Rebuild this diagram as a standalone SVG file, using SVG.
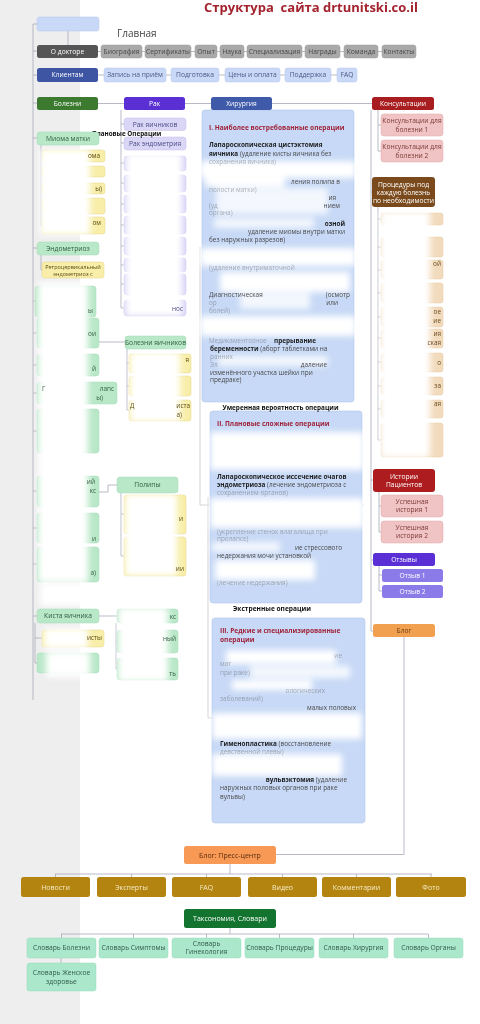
<svg xmlns="http://www.w3.org/2000/svg" width="480" height="1024" viewBox="0 0 480 1024">
<defs>
<style>
text{font-family:"Open Sans","Noto Sans","Liberation Sans",sans-serif}
.c{font-size:6.7px;text-anchor:middle}
.c7{font-size:7px;text-anchor:middle}
.sm{font-size:5.5px;text-anchor:middle}
.fr{font-size:6.4px}
.e{text-anchor:end}
.ln{stroke:#a6a9b8;stroke-width:0.8;fill:none}
.frame{stroke:#c9c9cf;stroke-width:0.8;fill:none}
.gr{fill:#a9a9a9;stroke:#9c9c9c;stroke-width:0.5}
.gt{fill:#484848}
.lb{fill:#c8d8f6;stroke:#b4c7ec;stroke-width:0.5}
.lbt{fill:#4a5a86}
.mg{fill:#b9e8c8;stroke:#a3d8b4;stroke-width:0.5}
.mgt{fill:#2f5b3e}
.yl{fill:#f8eeaa;stroke:#e4d486;stroke-width:0.5}
.ylt{fill:#5a4a10}
.lv{fill:#d9d6f6;stroke:#c4bfee;stroke-width:0.5}
.lvt{fill:#4b4a86}
.pk{fill:#f0c4c4;stroke:#e0a8a8;stroke-width:0.5}
.pkt{fill:#7d3838}
.pe{fill:#f2dbbd;stroke:#e6c9a2;stroke-width:0.5}
.pet{fill:#6a4a20}
.sb{fill:#c7d9f6;stroke:#b3c7ec;stroke-width:0.6}
.s{font-size:6.4px;fill:#4a4a4a}
.f{opacity:0.4}
.b{font-weight:700;fill:#1e1e1e}
.h{font-size:6.6px;font-weight:700;fill:#a0243a}
.gold{fill:#b3840f}
.goldt{fill:#f6ecc8}
.mint{fill:#abe8cb;stroke:#97dcbb;stroke-width:0.5}
.mintt{fill:#2f5a4a}
.w{fill:#fff}
</style>
<filter id="fog" x="-30%" y="-30%" width="160%" height="160%"><feGaussianBlur stdDeviation="3"/></filter>
</defs>

<rect x="0" y="0" width="480" height="1024" fill="#fff"/>
<rect x="0" y="0" width="80" height="1024" fill="#eeeeee"/>

<g id="connectors">
<path class="ln" d="M33,24 H37 M33,24 V700 M68,31 V45 M33,51 H37 M33,75 H37 M33,103 H37"/>
<path class="ln" d="M98,51.5 H416 M98,75 H357 M98,103.5 H434"/>
<path class="ln" d="M121,110 V308 M121,124 H124 M121,143 H124 M121,163 H124 M121,183 H124 M121,204 H124 M121,225 H124 M121,246 H124 M121,265 H124 M121,284 H124 M121,308 H124"/>
<path class="ln" d="M33,138 H37 M33,248 H37 M41,145 V226 M41,156 H42 M41,172 H42 M41,188 H42 M41,206 H42 M41,226 H42 M41,255 V270 H42"/>
<path class="ln" d="M33,301 H35 M33,333 H37 M33,365 H37 M33,393 H37 M33,431 H37 M33,491 H37 M33,528 H37 M33,564 H37 M33,616 H37"/>
<path class="ln" d="M99,342 H125 M127,349 V410 M127,363 H129 M127,386 H129 M127,410 H129"/>
<path class="ln" d="M99,492 H108 V485 H117 M121,493 V556 M121,514 H124 M121,556 H124"/>
<path class="ln" d="M99,616 H117 M35,623 V663 H37 M35,638 H42 M116,623 V669 M116,641 H117 M116,669 H117"/>
<path class="frame" d="M200,247 V505 H364 M208,497 V718 H212"/>
<path class="ln" d="M371,110 V631 H373 M371,192 H372 M371,480 H373 M371,560 H373"/>
<path class="ln" d="M378,110 V151 M378,125 H381 M378,151 H381 M378,207 V440 M378,219 H381 M378,247 H381 M378,270 H381 M378,293 H381 M378,317 H381 M378,338 H381 M378,362 H381 M378,386 H381 M378,409 H381 M378,440 H381"/>
<path class="ln" d="M379,492 V532 M379,506 H381 M379,532 H381 M379,566 V591 M379,575 H382 M379,591 H382"/>
<path class="ln" d="M404,637 V854.5 H276"/>
<path class="ln" d="M230,864 V874 M55,874 H432 M55.5,874 V877 M131.5,874 V877 M206.5,874 V877 M282.5,874 V877 M356.5,874 V877 M431,874 V877"/>
<path class="ln" d="M230,928 V934 M61,934 H428 M61.5,934 V938 M133.5,934 V938 M206.5,934 V938 M279.5,934 V938 M353.5,934 V938 M428.5,934 V938 M61,958 V963"/>
</g>

<g id="mioma-items">
<rect class="yl" x="42" y="150" width="63" height="12" rx="2.5"/>
<rect class="yl" x="42" y="166" width="63" height="11" rx="2.5"/>
<rect class="yl" x="42" y="183" width="63" height="11" rx="2.5"/>
<rect class="yl" x="42" y="198" width="63" height="16" rx="2.5"/>
<rect class="yl" x="42" y="217" width="63" height="17" rx="2.5"/>
</g>
<g id="endo-items">
<rect class="mg" x="35" y="286" width="61" height="31" rx="3"/>
<rect class="mg" x="37" y="318" width="62" height="30" rx="3"/>
<rect class="mg" x="37" y="354" width="62" height="22" rx="3"/>
<rect class="mg" x="37" y="382" width="80" height="22" rx="3"/>
<rect class="mg" x="37" y="409" width="62" height="44" rx="3"/>
<rect class="mg" x="37" y="476" width="62" height="31" rx="3"/>
<rect class="mg" x="37" y="513" width="62" height="30" rx="3"/>
<rect class="mg" x="37" y="547" width="62" height="35" rx="3"/>
</g>
<g id="kista-items">
<rect class="yl" x="42" y="630" width="62" height="17" rx="2.5"/>
<rect class="mg" x="37" y="653" width="62" height="20" rx="3"/>
<rect class="mg" x="117" y="609" width="61" height="14" rx="3"/>
<rect class="mg" x="117" y="630" width="61" height="23" rx="3"/>
<rect class="mg" x="117" y="658" width="61" height="22" rx="3"/>
</g>
<g id="ovary-items">
<rect class="yl" x="129" y="354" width="62" height="19" rx="2.5"/>
<rect class="yl" x="129" y="376" width="62" height="20" rx="2.5"/>
<rect class="yl" x="129" y="400" width="62" height="21" rx="2.5"/>
</g>
<g id="polyp-items">
<rect class="yl" x="124" y="495" width="62" height="39" rx="2.5"/>
<rect class="yl" x="124" y="537" width="62" height="39" rx="2.5"/>
</g>
<g id="rak-items">
<rect class="lv" x="124" y="156" width="62" height="15" rx="3"/>
<rect class="lv" x="124" y="175" width="62" height="17" rx="3"/>
<rect class="lv" x="124" y="195" width="62" height="18" rx="3"/>
<rect class="lv" x="124" y="216" width="62" height="18" rx="3"/>
<rect class="lv" x="124" y="237" width="62" height="18" rx="3"/>
<rect class="lv" x="124" y="258" width="62" height="14" rx="3"/>
<rect class="lv" x="124" y="274" width="62" height="21" rx="3"/>
<rect class="lv" x="124" y="300" width="62" height="16" rx="3"/>
</g>
<g id="procedure-items">
<rect class="pe" x="381" y="213" width="62" height="12" rx="2.5"/>
<rect class="pe" x="381" y="237" width="62" height="20" rx="2.5"/>
<rect class="pe" x="381" y="260" width="62" height="19" rx="2.5"/>
<rect class="pe" x="381" y="283" width="62" height="20" rx="2.5"/>
<rect class="pe" x="381" y="307" width="62" height="20" rx="2.5"/>
<rect class="pe" x="381" y="329" width="62" height="19" rx="2.5"/>
<rect class="pe" x="381" y="353" width="62" height="19" rx="2.5"/>
<rect class="pe" x="381" y="377" width="62" height="18" rx="2.5"/>
<rect class="pe" x="381" y="400" width="62" height="18" rx="2.5"/>
<rect class="pe" x="381" y="423" width="62" height="34" rx="2.5"/>
</g>
<g id="surgery-boxes">
<rect class="sb" x="202" y="110" width="152" height="292" rx="3"/>
<rect class="sb" x="210" y="411" width="152" height="192" rx="3"/>
<rect class="sb" x="212" y="618" width="153" height="205" rx="3"/>
</g>

<g id="fog" filter="url(#fog)" fill="#fff">
<rect x="40" y="149" width="50" height="86"/>
<rect x="38" y="282" width="50" height="300"/>
<rect x="40" y="584" width="46" height="22"/>
<rect x="44" y="628" width="44" height="20"/>
<rect x="46" y="651" width="44" height="26"/>
<rect x="118" y="607" width="50" height="75"/>
<rect x="126" y="153" width="56" height="163"/>
<rect x="130" y="352" width="50" height="70"/>
<rect x="125" y="494" width="52" height="82"/>
<rect x="380" y="211" width="50" height="247"/>
<rect x="200" y="161" width="156" height="17"/>
<rect x="205" y="178" width="80" height="9"/>
<rect x="216" y="188" width="112" height="26" opacity="0.8"/>
<rect x="214" y="218" width="100" height="10" opacity="0.8"/>
<rect x="200" y="248" width="156" height="18"/>
<rect x="220" y="272" width="130" height="20"/>
<rect x="240" y="293" width="70" height="16" opacity="0.8"/>
<rect x="200" y="316" width="156" height="20"/>
<rect x="218" y="356" width="110" height="10" opacity="0.8"/>
<rect x="210" y="432" width="154" height="38"/>
<rect x="210" y="498" width="154" height="30"/>
<rect x="212" y="542" width="68" height="10" opacity="0.8"/>
<rect x="215" y="560" width="100" height="20"/>
<rect x="226" y="650" width="110" height="14"/>
<rect x="250" y="666" width="100" height="12" opacity="0.8"/>
<rect x="232" y="680" width="80" height="10"/>
<rect x="212" y="713" width="150" height="26"/>
<rect x="212" y="754" width="130" height="22"/>
</g>

<text x="311" y="12" xml:space="preserve" style="font-size:13px;font-weight:700;fill:#a3232f;text-anchor:middle">Структура  сайта drtunitski.co.il</text>

<g id="home">
<rect class="lb" x="37" y="17" width="62" height="14" rx="2.5"/>
<text x="117" y="37" style="font-size:10px;fill:#444">Главная</text>
</g>

<g id="about">
<rect x="37" y="45" width="61" height="13" rx="2.5" fill="#555"/>
<text class="c w" x="67.5" y="53.8">О докторе</text>
<rect class="gr" x="101" y="45" width="41" height="13" rx="2.5"/><text class="c gt" x="121.5" y="53.8">Биография</text>
<rect class="gr" x="145" y="45" width="46" height="13" rx="2.5"/><text class="c gt" x="168" y="53.8">Сертификаты</text>
<rect class="gr" x="195" y="45" width="22" height="13" rx="2.5"/><text class="c gt" x="206" y="53.8">Опыт</text>
<rect class="gr" x="220" y="45" width="24" height="13" rx="2.5"/><text class="c gt" x="232" y="53.8">Наука</text>
<rect class="gr" x="247" y="45" width="55" height="13" rx="2.5"/><text class="c gt" x="274.5" y="53.8">Специализация</text>
<rect class="gr" x="305" y="45" width="35" height="13" rx="2.5"/><text class="c gt" x="322.5" y="53.8">Награды</text>
<rect class="gr" x="344" y="45" width="34" height="13" rx="2.5"/><text class="c gt" x="361" y="53.8">Команда</text>
<rect class="gr" x="382" y="45" width="34" height="13" rx="2.5"/><text class="c gt" x="399" y="53.8">Контакты</text>
</g>

<g id="clients">
<rect x="37" y="68" width="61" height="14" rx="2.5" fill="#3e55a3"/>
<text class="c w" x="67.5" y="77.3">Клиентам</text>
<rect class="lb" x="104" y="68" width="62" height="14" rx="2.5"/><text class="c lbt" x="135" y="77.3">Запись на приём</text>
<rect class="lb" x="171" y="68" width="48" height="14" rx="2.5"/><text class="c lbt" x="195" y="77.3">Подготовка</text>
<rect class="lb" x="225" y="68" width="55" height="14" rx="2.5"/><text class="c lbt" x="252.5" y="77.3">Цены и оплата</text>
<rect class="lb" x="285" y="68" width="46" height="14" rx="2.5"/><text class="c lbt" x="308" y="77.3">Поддержка</text>
<rect class="lb" x="337" y="68" width="20" height="14" rx="2.5"/><text class="c lbt" x="347" y="77.3">FAQ</text>
</g>

<g id="diseases">
<rect x="37" y="97" width="61" height="13" rx="2.5" fill="#3b7a2f"/>
<text class="c w" x="67.5" y="105.7">Болезни</text>
</g>
<g id="cancer">
<rect x="124" y="97" width="61" height="13" rx="2.5" fill="#5a30d4"/>
<text class="c w" x="154.5" y="105.7">Рак</text>
</g>
<g id="surgery">
<rect x="211" y="97" width="61" height="13" rx="2.5" fill="#3e5aa8"/>
<text class="c w" x="241.5" y="105.7">Хирургия</text>
</g>
<g id="consult">
<rect x="372" y="97" width="62" height="13" rx="2.5" fill="#a81d1f"/>
<text class="c w" x="403" y="105.7">Консультации</text>
</g>

<g id="rak-ovary">
<rect class="lv" x="124" y="118" width="62" height="12.5" rx="3"/>
<text class="c lvt" x="155" y="126.5">Рак яичников</text>
</g>
<g id="rak-endo">
<rect class="lv" x="124" y="137" width="62" height="13" rx="3"/>
<text class="c lvt" x="155" y="145.8">Рак эндометрия</text>
</g>

<text x="92" y="135.6" style="font-size:6.3px;font-weight:700;fill:#111">Плановые Операции</text>

<g id="mioma">
<rect class="mg" x="37" y="132" width="62" height="13" rx="3"/>
<text class="c mgt" x="68" y="140.8">Миома матки</text>
</g>
<g id="endo">
<rect class="mg" x="37" y="242" width="62" height="13" rx="3"/>
<text class="c mgt" x="68" y="250.8">Эндометриоз</text>
</g>
<g id="retro">
<rect class="yl" x="42" y="262" width="62" height="16" rx="2.5"/>
<text class="sm ylt" x="73" y="268.5">Ретроцервикальный</text>
<text class="sm ylt" x="73" y="275.5">эндометриоз с</text>
</g>
<g id="ovary">
<rect class="mg" x="125" y="336" width="61" height="13" rx="3"/>
<text class="c mgt" x="155.5" y="344.8">Болезни яичников</text>
</g>
<g id="polyps">
<rect class="mg" x="117" y="477" width="61" height="16" rx="3"/>
<text class="c mgt" x="147.5" y="487.3">Полипы</text>
</g>
<g id="kista">
<rect class="mg" x="37" y="609" width="62" height="14" rx="3"/>
<text class="c mgt" x="68" y="618.3">Киста яичника</text>
</g>

<g id="fragments">
<text class="fr ylt e" x="100" y="158.3">ома</text>
<text class="fr ylt e" x="102" y="190.5">ы)</text>
<text class="fr ylt e" x="101" y="225">ом</text>
<text class="fr mgt e" x="93" y="313">ы</text>
<text class="fr mgt e" x="96" y="336">ои</text>
<text class="fr mgt e" x="96" y="371">й</text>
<text class="fr mgt" x="42" y="391">Г</text>
<text class="fr mgt e" x="114" y="391">лапс</text>
<text class="fr mgt e" x="103" y="400">ы)</text>
<text class="fr mgt e" x="95" y="484">ий</text>
<text class="fr mgt e" x="96" y="493">кс</text>
<text class="fr mgt e" x="96" y="541">и</text>
<text class="fr mgt e" x="96" y="575">а)</text>
<text class="fr ylt e" x="102" y="640">исты</text>
<text class="fr mgt e" x="176" y="619">кс</text>
<text class="fr mgt e" x="176" y="641">ный</text>
<text class="fr mgt e" x="176" y="676">ть</text>
<text class="fr ylt e" x="189" y="362">я</text>
<text class="fr ylt" x="130" y="408">Д</text>
<text class="fr ylt e" x="190" y="408">иста</text>
<text class="fr ylt e" x="182" y="417">а)</text>
<text class="fr ylt e" x="183" y="521">и</text>
<text class="fr ylt e" x="184" y="571">ии</text>
<text class="fr lvt e" x="183" y="311">нос</text>
<text class="fr pet e" x="441" y="266">ой</text>
<text class="fr pet e" x="441" y="314">ое</text>
<text class="fr pet e" x="441" y="323">ие</text>
<text class="fr pet e" x="441" y="336">ия</text>
<text class="fr pet e" x="441" y="345">ская</text>
<text class="fr pet e" x="441" y="365">о</text>
<text class="fr pet e" x="441" y="388">за</text>
<text class="fr pet e" x="441" y="406">ая</text>
</g>

<g id="surgery-1">
<text class="h" x="209" y="130">I. Наиболее востребованные операции</text>
<text class="s b" x="209" y="147">Лапароскопическая цистэктомия</text>
<text class="s" x="209" y="155.5"><tspan class="b">яичника</tspan> (удаление кисты яичника без</text>
<text class="s f" x="209" y="164">сохранения яичника)</text>
<text class="s e" x="340" y="184">ления полипа в</text>
<text class="s f" x="209" y="192">полости матки)</text>
<text class="s e" x="336" y="200">ия</text>
<text class="s f" x="209" y="208">(уд</text>
<text class="s e" x="340" y="208">нием</text>
<text class="s f" x="209" y="215">органа)</text>
<text class="s b e" x="345" y="226">озной</text>
<text class="s e" x="345" y="234">удаление миомы внутри матки</text>
<text class="s" x="209" y="242">без наружных разрезов)</text>
<text class="s f" x="209" y="270">(удаление внутриматочной</text>
<text class="s" x="209" y="297">Диагностическая</text>
<text class="s e" x="350" y="297">(осмотр</text>
<text class="s f" x="209" y="305">ор</text>
<text class="s e" x="338" y="305">или</text>
<text class="s f" x="209" y="313">болей)</text>
<text class="s f" x="209" y="343">Медикаментозное</text>
<text class="s b e" x="316" y="343">прерывание</text>
<text class="s" x="210" y="351"><tspan class="b">беременности</tspan> (аборт таблетками на</text>
<text class="s f" x="210" y="359">ранних</text>
<text class="s f" x="210" y="367">Эл</text>
<text class="s e" x="327" y="367">даление</text>
<text class="s" x="210" y="375">изменённого участка шейки при</text>
<text class="s" x="210" y="382">предраке)</text>
</g>
<text x="280.5" y="410" style="font-size:6.4px;font-weight:700;fill:#111;text-anchor:middle">Умеренная вероятность операции</text>
<g id="surgery-2">
<text class="h" x="217" y="426">II. Плановые сложные операции</text>
<text class="s b" x="217" y="479">Лапароскопическое иссечение очагов</text>
<text class="s" x="217" y="487"><tspan class="b">эндометриоза</tspan> (лечение эндометриоза с</text>
<text class="s f" x="217" y="495">сохранением органов)</text>
<text class="s f" x="217" y="534">(укрепление стенок влагалища при</text>
<text class="s f" x="217" y="541">пролапсе)</text>
<text class="s e" x="342" y="550">ие стрессового</text>
<text class="s" x="217" y="558">недержания мочи установкой</text>
<text class="s f" x="217" y="585">(лечение недержания)</text>
</g>
<text x="272" y="611" style="font-size:6.6px;font-weight:700;fill:#111;text-anchor:middle">Экстренные операции</text>
<g id="surgery-3">
<text class="h" x="220" y="633">III. Редкие и специализированные</text>
<text class="h" x="220" y="642">операции</text>
<text class="s f e" x="342" y="658">ие</text>
<text class="s f" x="220" y="666">мат</text>
<text class="s f" x="220" y="675">при раке)</text>
<text class="s f e" x="325" y="693">ологических</text>
<text class="s f" x="220" y="701">заболеваний)</text>
<text class="s e" x="356" y="710">малых половых</text>
<text class="s" x="220" y="746"><tspan class="b">Гименопластика</tspan> (восстановление</text>
<text class="s f" x="220" y="754">девственной плевы)</text>
<text class="s e" x="347" y="782"><tspan class="b">вульвэктомия</tspan> (удаление</text>
<text class="s" x="220" y="790">наружных половых органов при раке</text>
<text class="s" x="220" y="799">вульвы)</text>
</g>

<g id="consult-1">
<rect class="pk" x="381" y="114" width="62" height="22" rx="3"/>
<text class="c pkt" x="412" y="123.3">Консультации для</text>
<text class="c pkt" x="412" y="131.5">болезни 1</text>
</g>
<g id="consult-2">
<rect class="pk" x="381" y="140" width="62" height="22" rx="3"/>
<text class="c pkt" x="412" y="149.3">Консультации для</text>
<text class="c pkt" x="412" y="157.5">болезни 2</text>
</g>
<g id="procedures">
<rect x="372" y="177" width="63" height="30" rx="3" fill="#7a4a1c"/>
<text class="c w" x="403.5" y="186.5">Процедуры под</text>
<text class="c w" x="403.5" y="194.5">каждую болезнь</text>
<text class="c w" x="403.5" y="202.5">по необходимости</text>
</g>
<g id="stories">
<rect x="373" y="469" width="62" height="23" rx="3" fill="#ad1c1e"/>
<text class="c w" x="404" y="478.5">Истории</text>
<text class="c w" x="404" y="487">Пациентов</text>
</g>
<g id="story-1">
<rect class="pk" x="381" y="495" width="62" height="22" rx="3"/>
<text class="c pkt" x="412" y="504.2">Успешная</text>
<text class="c pkt" x="412" y="512.4">история 1</text>
</g>
<g id="story-2">
<rect class="pk" x="381" y="521" width="62" height="22" rx="3"/>
<text class="c pkt" x="412" y="530.2">Успешная</text>
<text class="c pkt" x="412" y="538.4">история 2</text>
</g>
<g id="reviews">
<rect x="373" y="553" width="62" height="13" rx="2.5" fill="#5a2fd6"/>
<text class="c w" x="404" y="561.8">Отзывы</text>
</g>
<g id="review-1">
<rect x="382" y="569" width="61" height="13" rx="2.5" fill="#8b7be8"/>
<text class="c w" x="412.5" y="577.8">Отзыв 1</text>
</g>
<g id="review-2">
<rect x="382" y="585" width="61" height="13" rx="2.5" fill="#8b7be8"/>
<text class="c w" x="412.5" y="593.8">Отзыв 2</text>
</g>
<g id="blog">
<rect x="373" y="624" width="62" height="13" rx="2.5" fill="#f0a04e"/>
<text class="c" x="404" y="632.8" fill="#6a3a10">Блог</text>
</g>

<g id="press">
<rect x="184" y="846" width="92" height="18" rx="2.5" fill="#f89a56"/>
<text class="c7" x="230" y="857.5" fill="#5a2e10">Блог: Пресс-центр</text>
</g>
<g id="press-items">
<rect class="gold" x="21" y="877" width="69" height="20" rx="2.5"/><text class="c7 goldt" x="55.5" y="889.5">Новости</text>
<rect class="gold" x="97" y="877" width="69" height="20" rx="2.5"/><text class="c7 goldt" x="131.5" y="889.5">Эксперты</text>
<rect class="gold" x="172" y="877" width="69" height="20" rx="2.5"/><text class="c7 goldt" x="206.5" y="889.5">FAQ</text>
<rect class="gold" x="248" y="877" width="69" height="20" rx="2.5"/><text class="c7 goldt" x="282.5" y="889.5">Видео</text>
<rect class="gold" x="322" y="877" width="69" height="20" rx="2.5"/><text class="c7 goldt" x="356.5" y="889.5">Комментарии</text>
<rect class="gold" x="396" y="877" width="70" height="20" rx="2.5"/><text class="c7 goldt" x="431" y="889.5">Фото</text>
</g>
<g id="taxonomy">
<rect x="184" y="909" width="92" height="19" rx="2.5" fill="#12742e"/>
<text class="c7 w" x="230" y="921">Таксономия, Словари</text>
</g>
<g id="dictionaries">
<rect class="mint" x="27" y="938" width="69" height="20" rx="2.5"/><text class="c mintt" x="61.5" y="950.4">Словарь Болезни</text>
<rect class="mint" x="99" y="938" width="69" height="20" rx="2.5"/><text class="c mintt" x="133.5" y="950.4">Словарь Симптомы</text>
<rect class="mint" x="172" y="938" width="69" height="20" rx="2.5"/><text class="c mintt" x="206.5" y="946">Словарь</text><text class="c mintt" x="206.5" y="954">Гинекология</text>
<rect class="mint" x="245" y="938" width="69" height="20" rx="2.5"/><text class="c mintt" x="279.5" y="950.4">Словарь Процедуры</text>
<rect class="mint" x="319" y="938" width="69" height="20" rx="2.5"/><text class="c mintt" x="353.5" y="950.4">Словарь Хирургия</text>
<rect class="mint" x="394" y="938" width="69" height="20" rx="2.5"/><text class="c mintt" x="428.5" y="950.4">Словарь Органы</text>
</g>
<g id="dict-women">
<rect class="mint" x="27" y="963" width="69" height="28" rx="2.5"/>
<text class="c mintt" x="61.5" y="975">Словарь Женское</text>
<text class="c mintt" x="61.5" y="983.5">здоровье</text>
</g>
</svg>
